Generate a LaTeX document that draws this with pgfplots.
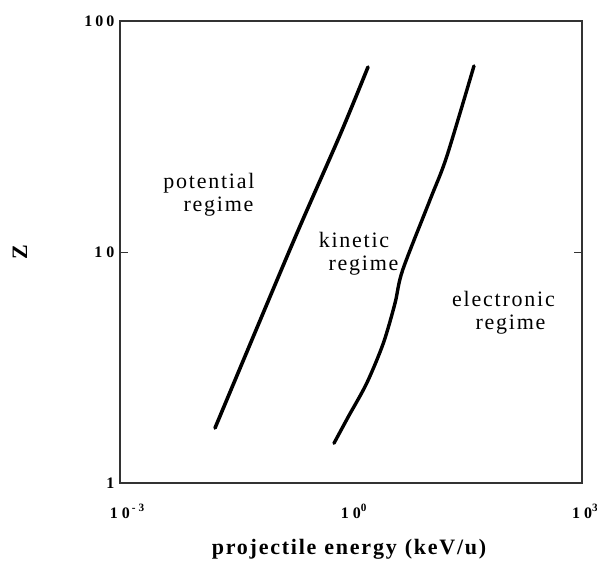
\documentclass[border=0pt]{standalone}
\usepackage{fontspec}
\setmainfont{Liberation Serif}
\newfontfamily\labfont[LetterSpace=8]{Liberation Serif}
\usepackage{pgfplots}
\pgfplotsset{compat=1.18}
\begin{document}
\begin{tikzpicture}
\path[use as bounding box] (-120pt,-80pt) rectangle (477pt,483pt);
\begin{axis}[
  scale only axis,
  width=462pt, height=462pt,
  xmode=log, ymode=log,
  xmin=1e-3, xmax=1e3, ymin=1, ymax=100,
  axis line style={line width=1.2pt, black!80},
  xtick={1e-3,1,1e3},
  xticklabels={%
    {1\kern4pt0\rlap{\textsuperscript{\kern2pt-\kern3pt3}}},
    {1\kern4pt0\rlap{\textsuperscript{0}}},
    {1\kern4pt0\rlap{\textsuperscript{3}}}},
  ytick={1,10,100},
  yticklabels={{1},{1\kern4pt0},{1\kern3pt0\kern3pt0}},
  xminorticks=false, yminorticks=false,
  xtick style={draw=none},
  ytick style={line width=0.8pt, black!80},
  major tick length=8pt,
  tick align=inside,
  xticklabel style={font=\fontsize{16}{18}\selectfont\bfseries, anchor=base, yshift=-35pt},
  yticklabel style={font=\fontsize{16}{18}\selectfont\bfseries, xshift=-2pt},
  clip=false,
]
\addplot[black, line width=3.6pt, line cap=round, line join=round, smooth, tension=0.5] coordinates {
  (0.01714,1.730) (0.1663,10.51) (0.7197,32.10) (1.663,63.2)
};
\addplot[black, line width=3.4pt, line cap=round, line join=round, smooth, tension=0.5] coordinates {
  (0.6012,1.486) (0.9226,1.936) (1.599,2.702) (2.627,4.025) (3.727,5.997)
  (4.690,8.358) (10.61,16.80) (17.49,25.86) (39.55,63.9)
};
\node[font=\fontsize{22}{24}\labfont, anchor=base east] at (rel axis cs:0.2987,0.6364) {potential};
\node[font=\fontsize{22}{24}\labfont, anchor=base east] at (rel axis cs:0.2965,0.5866) {regime};
\node[font=\fontsize{22}{24}\labfont, anchor=base] at (rel axis cs:0.5065,0.5108) {kinetic};
\node[font=\fontsize{22}{24}\labfont, anchor=base] at (rel axis cs:0.5271,0.4610) {regime};
\node[font=\fontsize{22}{24}\labfont, anchor=base] at (rel axis cs:0.8301,0.3810) {electronic};
\node[font=\fontsize{22}{24}\labfont, anchor=base] at (rel axis cs:0.8452,0.3312) {regime};
\node[font=\fontsize{22}{24}\labfont\bfseries, anchor=base] at (rel axis cs:0.4957,-0.1558) {projectile\kern8pt energy\kern8pt (keV/u)};
\node[font=\fontsize{22}{24}\selectfont\bfseries, rotate=90] at (rel axis cs:-0.2165,0.5) {Z};
\end{axis}
\end{tikzpicture}
\end{document}
